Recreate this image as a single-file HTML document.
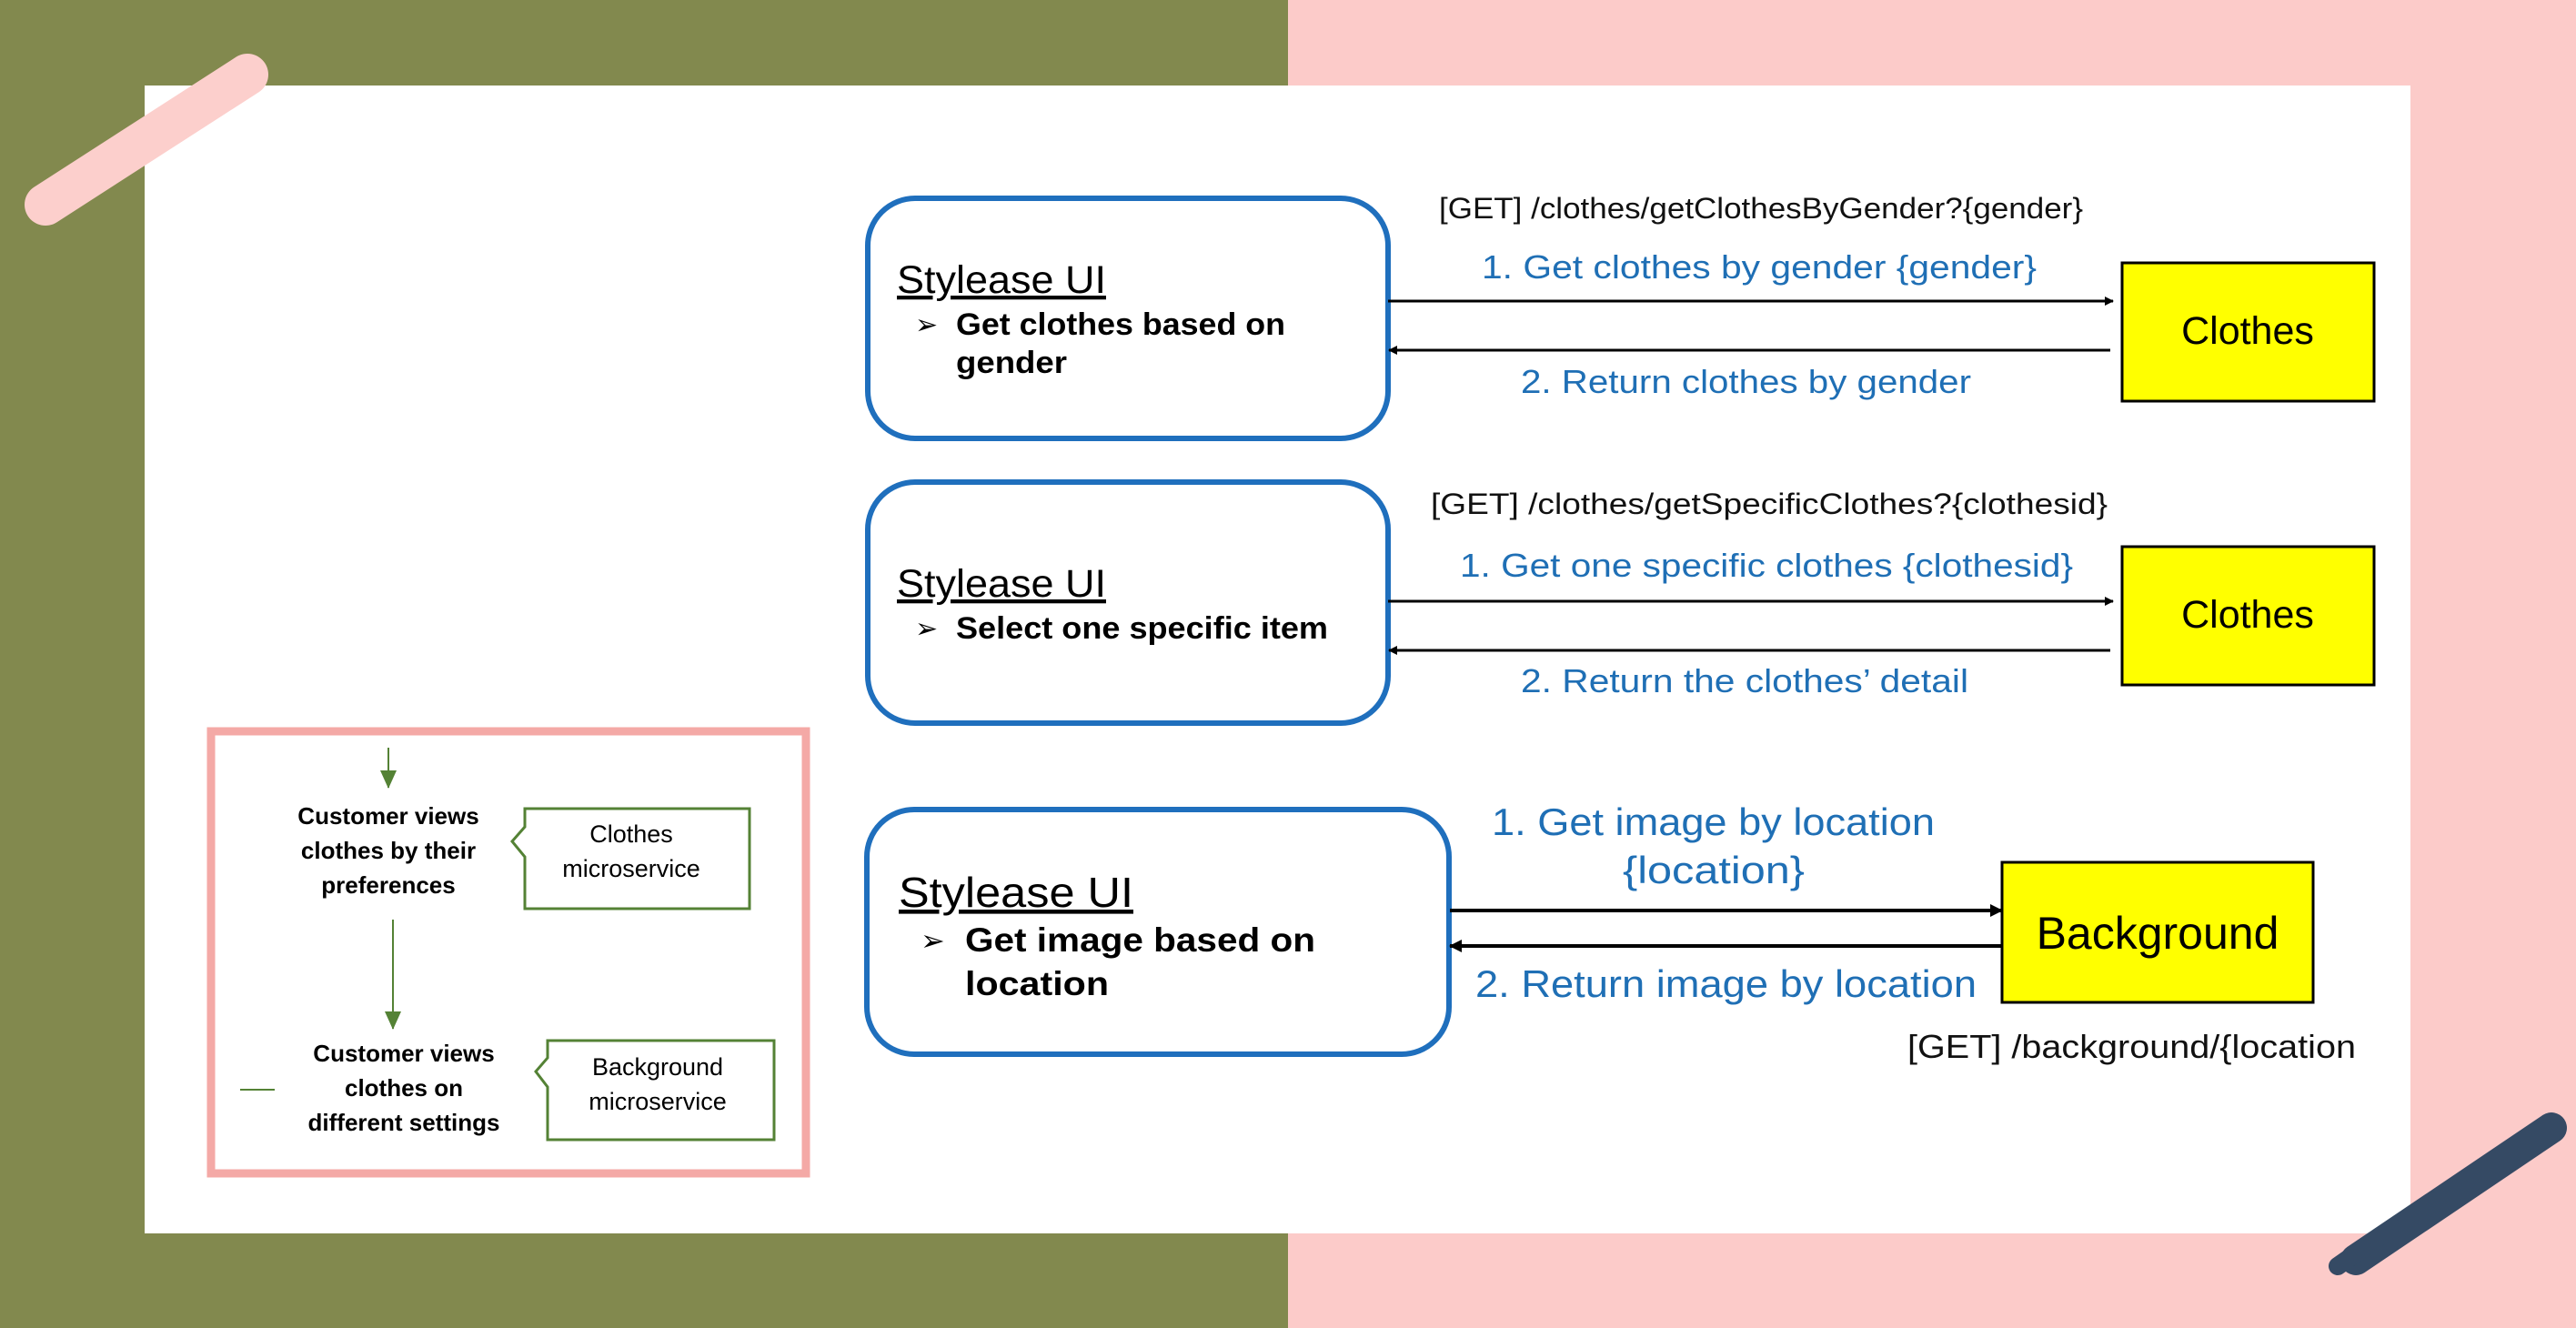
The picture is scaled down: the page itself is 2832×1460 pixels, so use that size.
<!DOCTYPE html>
<html><head><meta charset="utf-8"><style>
html,body{margin:0;padding:0;width:2832px;height:1460px;overflow:hidden;}
svg{display:block;}
text{font-family:"Liberation Sans",sans-serif;}
</style></head><body>
<svg width="2832" height="1460" viewBox="0 0 2832 1460" xmlns="http://www.w3.org/2000/svg">
<defs>
<marker id="ah" markerWidth="10" markerHeight="10" refX="9" refY="5" orient="auto" markerUnits="userSpaceOnUse"><path d="M0,0 L10,5 L0,10 Z" fill="#000"/></marker>
<marker id="ah2" markerWidth="14" markerHeight="14" refX="13" refY="7" orient="auto" markerUnits="userSpaceOnUse"><path d="M0,0 L14,7 L0,14 Z" fill="#000"/></marker>
<marker id="ga" markerWidth="20" markerHeight="20" refX="19" refY="9" orient="auto" markerUnits="userSpaceOnUse"><path d="M0,0 L20,9 L0,18 Z" fill="#548235"/></marker>
</defs>
<rect x="0" y="0" width="1416" height="1460" fill="#82894e"/>
<rect x="1416" y="0" width="1416" height="1460" fill="#fccbc9"/>
<rect x="159" y="94" width="2491" height="1262" fill="#fff"/>
<!-- brushes -->
<line x1="50" y1="225" x2="272" y2="82" stroke="#fccfcc" stroke-width="46" stroke-linecap="round"/>
<line x1="2590" y1="1385" x2="2805" y2="1240" stroke="#354a64" stroke-width="34" stroke-linecap="round"/>
<line x1="2570" y1="1392" x2="2630" y2="1350" stroke="#354a64" stroke-width="20" stroke-linecap="round"/>

<!-- UI boxes -->
<g fill="#fff" stroke="#1f6fbd" stroke-width="6">
<rect x="954" y="218" width="572" height="264" rx="52"/>
<rect x="954" y="530" width="572" height="265" rx="52"/>
<rect x="953" y="890" width="640" height="269" rx="52"/>
</g>
<g fill="#000">
<text x="986" y="322" font-size="43" text-decoration="underline" textLength="230" lengthAdjust="spacingAndGlyphs">Stylease UI</text>
<text x="1006" y="367" font-size="30">➢</text>
<text x="1051" y="368" font-size="34" font-weight="bold" textLength="362" lengthAdjust="spacingAndGlyphs">Get clothes based on</text>
<text x="1051" y="410" font-size="34" font-weight="bold" textLength="122" lengthAdjust="spacingAndGlyphs">gender</text>

<text x="986" y="656" font-size="43" text-decoration="underline" textLength="230" lengthAdjust="spacingAndGlyphs">Stylease UI</text>
<text x="1006" y="701" font-size="30">➢</text>
<text x="1051" y="702" font-size="34" font-weight="bold" textLength="409" lengthAdjust="spacingAndGlyphs">Select one specific item</text>

<text x="988" y="997" font-size="46" text-decoration="underline" textLength="258" lengthAdjust="spacingAndGlyphs">Stylease UI</text>
<text x="1012" y="1045" font-size="32">➢</text>
<text x="1061" y="1046" font-size="37" font-weight="bold" textLength="385" lengthAdjust="spacingAndGlyphs">Get image based on</text>
<text x="1061" y="1094" font-size="37" font-weight="bold" textLength="158" lengthAdjust="spacingAndGlyphs">location</text>
</g>

<!-- service boxes -->
<g fill="#ffff00" stroke="#000" stroke-width="3">
<rect x="2333" y="289" width="277" height="152"/>
<rect x="2333" y="601" width="277" height="152"/>
<rect x="2201" y="948" width="342" height="154"/>
</g>
<g fill="#000" text-anchor="middle">
<text x="2471" y="378" font-size="43">Clothes</text>
<text x="2471" y="690" font-size="43">Clothes</text>
<text x="2372" y="1043" font-size="50">Background</text>
</g>

<!-- arrows -->
<g stroke="#000" stroke-width="3">
<line x1="1526" y1="331" x2="2323" y2="331" marker-end="url(#ah)"/>
<line x1="2320" y1="385" x2="1527" y2="385" marker-end="url(#ah)"/>
<line x1="1526" y1="661" x2="2323" y2="661" marker-end="url(#ah)"/>
<line x1="2320" y1="715" x2="1527" y2="715" marker-end="url(#ah)"/>
<line x1="1594" y1="1001" x2="2201" y2="1001" stroke-width="4" marker-end="url(#ah2)"/>
<line x1="2201" y1="1040" x2="1594" y2="1040" stroke-width="4" marker-end="url(#ah2)"/>
</g>

<!-- labels -->
<g fill="#111" font-size="32">
<text x="1582" y="240" textLength="708" lengthAdjust="spacingAndGlyphs">[GET] /clothes/getClothesByGender?{gender}</text>
<text x="1573" y="565" textLength="744" lengthAdjust="spacingAndGlyphs">[GET] /clothes/getSpecificClothes?{clothesid}</text>
<text x="2097" y="1163" font-size="36" textLength="493" lengthAdjust="spacingAndGlyphs">[GET] /background/{location</text>
</g>
<g fill="#1f6fb5" font-size="36">
<text x="1629" y="306" textLength="610" lengthAdjust="spacingAndGlyphs">1. Get clothes by gender {gender}</text>
<text x="1672" y="432" textLength="495" lengthAdjust="spacingAndGlyphs">2. Return clothes by gender</text>
<text x="1605" y="634" textLength="674" lengthAdjust="spacingAndGlyphs">1. Get one specific clothes {clothesid}</text>
<text x="1672" y="761" textLength="492" lengthAdjust="spacingAndGlyphs">2. Return the clothes’ detail</text>
<text x="1640" y="918" font-size="42" textLength="487" lengthAdjust="spacingAndGlyphs">1. Get image by location</text>
<text x="1784" y="971" font-size="42" textLength="200" lengthAdjust="spacingAndGlyphs">{location}</text>
<text x="1622" y="1096" font-size="42" textLength="551" lengthAdjust="spacingAndGlyphs">2. Return image by location</text>
</g>

<!-- left pink box -->
<rect x="232" y="804" width="654" height="486" fill="#fff" stroke="#f4a9a6" stroke-width="9"/>
<g stroke="#548235" stroke-width="2">
<line x1="427" y1="822" x2="427" y2="866" marker-end="url(#ga)"/>
<line x1="432" y1="1011" x2="432" y2="1131" marker-end="url(#ga)"/>
<line x1="264" y1="1198" x2="302" y2="1198"/>
</g>
<g fill="#000" font-size="26" font-weight="bold" text-anchor="middle">
<text x="427" y="906">Customer views</text>
<text x="427" y="944">clothes by their</text>
<text x="427" y="982">preferences</text>
<text x="444" y="1167">Customer views</text>
<text x="444" y="1205">clothes on</text>
<text x="444" y="1243">different settings</text>
</g>
<g fill="#fff" stroke="#548235" stroke-width="3">
<path d="M577,889 L824,889 L824,999 L577,999 L577,942 L563,925 L577,909 Z"/>
<path d="M602,1144 L851,1144 L851,1253 L602,1253 L602,1195 L589,1178 L602,1163 Z"/>
</g>
<g fill="#000" font-size="27" text-anchor="middle">
<text x="694" y="926">Clothes</text>
<text x="694" y="964">microservice</text>
<text x="723" y="1182">Background</text>
<text x="723" y="1220">microservice</text>
</g>
</svg>
</body></html>
